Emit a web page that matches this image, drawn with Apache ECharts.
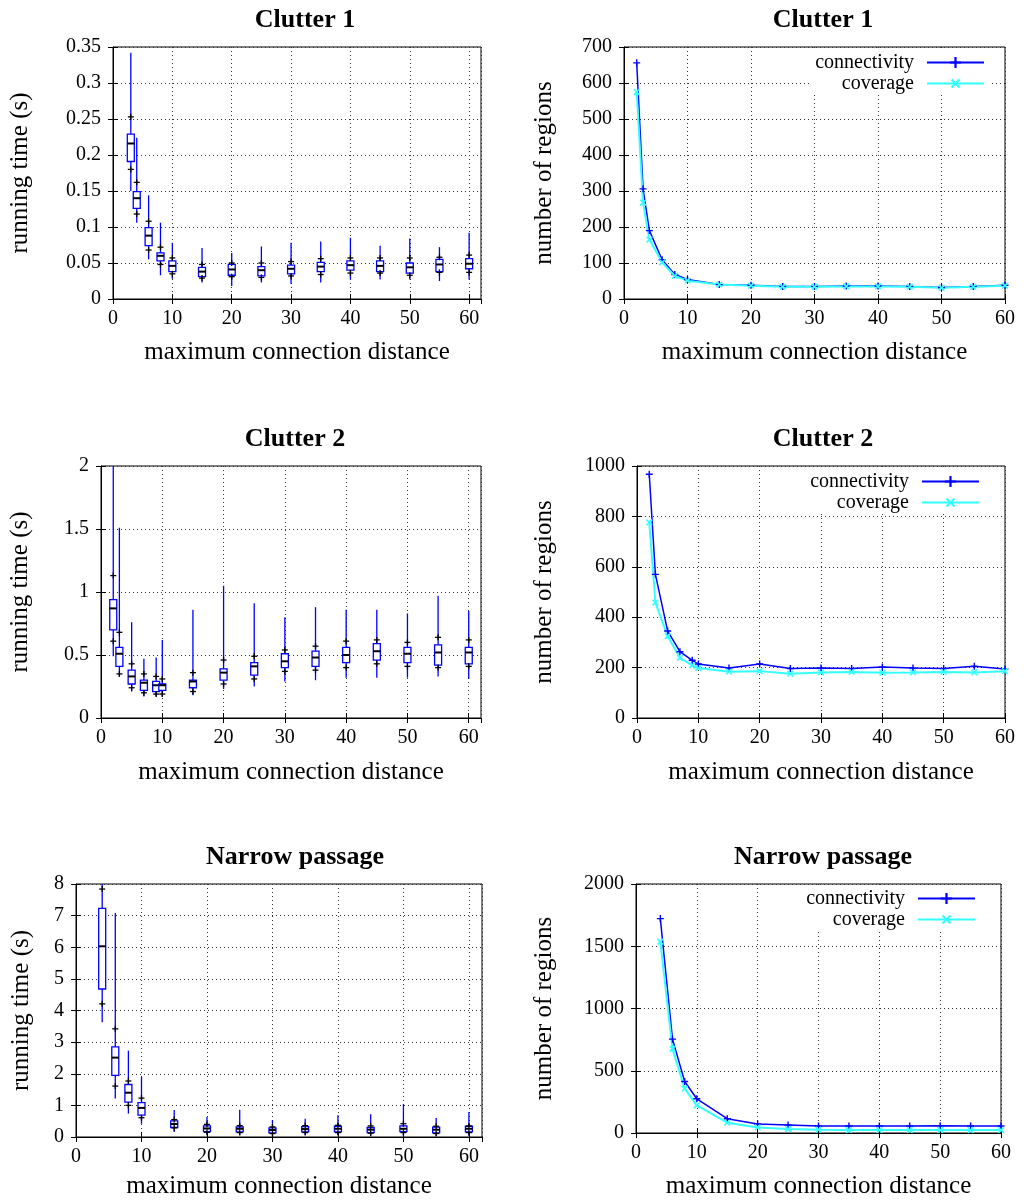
<!DOCTYPE html>
<html>
<head>
<meta charset="utf-8">
<script src="https://cdn.jsdelivr.net/npm/echarts@6/dist/echarts.min.js"></script>
<style>
html, body { margin: 0; background: #fff; }
#c { width: 1027px; height: 1201px; }
</style>
</head>
<body>
<div id="c"></div>
<script>
// running time boxes: [min, p10, q1, median, q3, p90, max]
var c1BoxX = [3, 4, 6, 8, 10, 15, 20, 25, 30, 35, 40, 45, 50, 55, 60];
var c1Box = [
  [0.150, 0.180, 0.191, 0.216, 0.229, 0.253, 0.342],
  [0.106, 0.118, 0.126, 0.140, 0.149, 0.162, 0.224],
  [0.055, 0.068, 0.074, 0.088, 0.099, 0.108, 0.144],
  [0.033, 0.048, 0.053, 0.060, 0.064, 0.072, 0.106],
  [0.028, 0.035, 0.038, 0.046, 0.053, 0.057, 0.078],
  [0.023, 0.029, 0.031, 0.038, 0.044, 0.048, 0.071],
  [0.018, 0.031, 0.033, 0.041, 0.048, 0.050, 0.064],
  [0.023, 0.030, 0.032, 0.040, 0.045, 0.050, 0.073],
  [0.021, 0.032, 0.035, 0.042, 0.047, 0.052, 0.078],
  [0.023, 0.034, 0.038, 0.045, 0.051, 0.056, 0.080],
  [0.027, 0.036, 0.040, 0.047, 0.053, 0.057, 0.085],
  [0.027, 0.036, 0.038, 0.046, 0.053, 0.057, 0.074],
  [0.027, 0.033, 0.036, 0.044, 0.050, 0.057, 0.084],
  [0.025, 0.037, 0.038, 0.048, 0.055, 0.058, 0.072],
  [0.027, 0.037, 0.042, 0.049, 0.056, 0.061, 0.092]
];
var c2BoxX = [2, 3, 5, 7, 9, 10, 15, 20, 25, 30, 35, 40, 45, 50, 55, 60];
var c2Box = [
  [0.49, 0.61, 0.70, 0.87, 0.94, 1.13, 2.00],
  [0.33, 0.35, 0.41, 0.51, 0.56, 0.68, 1.51],
  [0.21, 0.24, 0.27, 0.33, 0.38, 0.43, 0.76],
  [0.17, 0.20, 0.22, 0.28, 0.30, 0.35, 0.47],
  [0.17, 0.19, 0.21, 0.26, 0.29, 0.33, 0.48],
  [0.17, 0.19, 0.22, 0.26, 0.27, 0.31, 0.62],
  [0.18, 0.21, 0.24, 0.29, 0.30, 0.36, 0.86],
  [0.23, 0.27, 0.30, 0.36, 0.39, 0.46, 1.05],
  [0.25, 0.31, 0.34, 0.41, 0.44, 0.49, 0.91],
  [0.29, 0.37, 0.40, 0.45, 0.51, 0.54, 0.80],
  [0.30, 0.38, 0.41, 0.48, 0.53, 0.57, 0.88],
  [0.32, 0.40, 0.44, 0.50, 0.56, 0.61, 0.86],
  [0.32, 0.43, 0.46, 0.53, 0.59, 0.62, 0.86],
  [0.32, 0.41, 0.44, 0.51, 0.56, 0.60, 0.83],
  [0.33, 0.40, 0.42, 0.52, 0.58, 0.64, 0.97],
  [0.31, 0.41, 0.43, 0.52, 0.56, 0.62, 0.85]
];
var npBoxX = [4, 6, 8, 10, 15, 20, 25, 30, 35, 40, 45, 50, 55, 60];
var npBox = [
  [3.63, 4.21, 4.68, 6.03, 7.23, 7.84, 8.00],
  [1.22, 1.61, 1.95, 2.51, 2.85, 3.42, 7.08],
  [0.74, 1.00, 1.10, 1.40, 1.66, 1.77, 2.73],
  [0.42, 0.61, 0.69, 0.92, 1.09, 1.23, 1.90],
  [0.16, 0.29, 0.30, 0.41, 0.51, 0.55, 0.85],
  [0.08, 0.15, 0.17, 0.27, 0.35, 0.40, 0.63],
  [0.06, 0.14, 0.16, 0.26, 0.32, 0.36, 0.86],
  [0.04, 0.11, 0.13, 0.22, 0.29, 0.32, 0.53],
  [0.06, 0.14, 0.16, 0.25, 0.33, 0.36, 0.58],
  [0.06, 0.14, 0.16, 0.26, 0.34, 0.37, 0.69],
  [0.04, 0.12, 0.14, 0.23, 0.30, 0.35, 0.72],
  [0.04, 0.14, 0.17, 0.26, 0.35, 0.42, 1.03],
  [0.04, 0.11, 0.13, 0.23, 0.31, 0.34, 0.60],
  [0.04, 0.14, 0.16, 0.26, 0.34, 0.35, 0.79]
];

// number of regions
var c1X = [2, 3, 4, 6, 8, 10, 15, 20, 25, 30, 35, 40, 45, 50, 55, 60];
var c1Conn = [656, 306, 190, 109, 68, 54, 40, 38, 35, 35, 36, 36, 35, 32, 35, 38];
var c1Cov = [575, 268, 165, 102, 64, 51, 40, 37, 34, 34, 35, 35, 34, 31, 34, 37];
var c2X = [2, 3, 5, 7, 9, 10, 15, 20, 25, 30, 35, 40, 45, 50, 55, 60];
var c2Conn = [967, 570, 345, 263, 229, 214, 198, 214, 196, 198, 196, 202, 198, 196, 205, 194];
var c2Cov = [776, 458, 324, 239, 209, 198, 184, 186, 176, 181, 183, 180, 181, 183, 181, 186];
var npX = [4, 6, 8, 10, 15, 20, 25, 30, 35, 40, 45, 50, 55, 60];
var npConn = [1722, 754, 414, 275, 115, 72, 64, 56, 56, 56, 56, 59, 56, 56];
var npCov = [1537, 676, 356, 222, 83, 45, 32, 27, 24, 24, 24, 24, 24, 24];

var titles = ['Clutter 1', 'Clutter 1', 'Clutter 2', 'Clutter 2', 'Narrow passage', 'Narrow passage'];
var xName = 'maximum connection distance';
var leftName = 'running time (s)';
var rightName = 'number of regions';

var FONT = 'Liberation Serif';
var BLUE = '#0000ff';
var CYAN = '#33ffff';
var PLUS = 'path://M4,0H6V4H10V6H6V10H4V6H0V4H4Z';

var chart = echarts.init(document.getElementById('c'));

var grids = [
  { left: 113, top: 47, width: 368, height: 252 },
  { left: 624, top: 47, width: 381, height: 252 },
  { left: 101, top: 466, width: 380, height: 252 },
  { left: 637, top: 466, width: 368, height: 252 },
  { left: 76, top: 884, width: 406, height: 253 },
  { left: 636, top: 884, width: 365, height: 249 }
];
var xGaps = [41, 41, 42, 42, 37, 41];
var yGaps = [80, 67, 68, 80, 42, 79];
var yMax = [0.35, 700, 2, 1000, 8, 2000];
var yStep = [0.05, 100, 0.5, 200, 1, 500];
var titlePos = [[300, 2], [818, 2], [290, 421], [818, 421], [290, 839], [818, 839]];

var splitStyle = { lineStyle: { color: '#333', type: [1, 3], width: 1 } };
var tickStyle = { inside: true, length: 5, lineStyle: { color: '#000' } };

function plainNum(v) { return String(+(+v).toFixed(2)); }

var xAxes = [], yAxes = [], titleList = [];
grids.forEach(function (g, i) {
  g.show = true;
  g.borderColor = '#000';
  g.borderWidth = 1;
  var isBox = i % 2 === 0;
  xAxes.push({
    type: 'value', gridIndex: i, min: 0, max: isBox ? 62 : 60, interval: 10,
    name: xName, nameLocation: 'middle', nameGap: xGaps[i],
    nameTextStyle: { fontFamily: FONT, fontSize: 25, color: '#000' },
    axisLine: { lineStyle: { color: '#000', width: 1 } },
    axisTick: tickStyle,
    axisLabel: { fontFamily: FONT, fontSize: 20, color: '#000', margin: 10, showMaxLabel: !isBox },
    splitLine: splitStyle
  });
  yAxes.push({
    type: 'value', gridIndex: i, min: 0, max: yMax[i], interval: yStep[i],
    name: isBox ? leftName : rightName, nameLocation: 'middle', nameGap: yGaps[i],
    nameTextStyle: { fontFamily: FONT, fontSize: 25, color: '#000' },
    axisLine: { show: true, lineStyle: { color: '#000', width: 1 } },
    axisTick: { show: true, inside: true, length: 5, lineStyle: { color: '#000' } },
    axisLabel: { fontFamily: FONT, fontSize: 20, color: '#000', margin: 12, formatter: plainNum },
    splitLine: splitStyle
  });
  titleList.push({
    text: titles[i], left: titlePos[i][0], top: titlePos[i][1], textAlign: 'center',
    textStyle: { fontFamily: FONT, fontSize: 26, fontWeight: 'bold', color: '#000' }
  });
});
// mirror ticks on top and right edges
grids.forEach(function (g, i) {
  var isBox = i % 2 === 0;
  xAxes.push({
    type: 'value', gridIndex: i, position: 'top', min: 0, max: isBox ? 62 : 60, interval: 10,
    axisLine: { show: false }, axisTick: tickStyle, axisLabel: { show: false }, splitLine: { show: false }
  });
  yAxes.push({
    type: 'value', gridIndex: i, position: 'right', min: 0, max: yMax[i], interval: yStep[i],
    axisLine: { show: false }, axisTick: { show: true, inside: true, length: 5, lineStyle: { color: '#000' } },
    axisLabel: { show: false }, splitLine: { show: false }
  });
});

function boxItem(params, api) {
  var x = api.value(0);
  var pt = function (k) { return api.coord([x, api.value(k)]); };
  var lo = pt(1), p10 = pt(2), q1 = pt(3), md = pt(4), q3 = pt(5), p90 = pt(6), hi = pt(7);
  var cx = lo[0], w = 3.5;
  var blueLine = { stroke: BLUE, lineWidth: 1.3 };
  var blk = { stroke: '#000', lineWidth: 1.3 };
  function plus(p) {
    return [
      { type: 'line', shape: { x1: cx - 3, y1: p[1], x2: cx + 3, y2: p[1] }, style: blk },
      { type: 'line', shape: { x1: cx, y1: p[1] - 3, x2: cx, y2: p[1] + 3 }, style: blk }
    ];
  }
  return {
    type: 'group',
    children: [
      { type: 'line', shape: { x1: cx, y1: hi[1], x2: cx, y2: q3[1] }, style: blueLine },
      { type: 'line', shape: { x1: cx, y1: q1[1], x2: cx, y2: lo[1] }, style: blueLine },
      { type: 'rect', shape: { x: cx - w, y: q3[1], width: 2 * w, height: q1[1] - q3[1] },
        style: { fill: '#fff', stroke: BLUE, lineWidth: 1.3 } },
      { type: 'line', shape: { x1: cx - w, y1: md[1], x2: cx + w, y2: md[1] },
        style: { stroke: '#000', lineWidth: 2 } }
    ].concat(plus(p10), plus(p90))
  };
}

function boxSeries(xs, rows, idx) {
  return {
    type: 'custom', xAxisIndex: idx, yAxisIndex: idx,
    renderItem: boxItem,
    encode: { x: 0, y: [1, 2, 3, 4, 5, 6, 7] },
    data: xs.map(function (x, i) { return [x].concat(rows[i]); })
  };
}

function pairs(xs, ys) {
  return xs.map(function (x, i) { return [x, ys[i]]; });
}

function lineSeries(name, xs, ys, idx) {
  var conn = name === 'connectivity';
  return {
    type: 'line', name: name, xAxisIndex: idx, yAxisIndex: idx,
    data: pairs(xs, ys),
    symbol: PLUS, symbolSize: conn ? 7 : 8, symbolRotate: conn ? 0 : 45,
    showAllSymbol: true,
    lineStyle: { color: conn ? BLUE : CYAN, width: conn ? 1.5 : 2 },
    itemStyle: { color: conn ? BLUE : CYAN }
  };
}

function legendAt(top, right) {
  return {
    data: ['connectivity', 'coverage'], orient: 'vertical', align: 'right',
    top: top, right: right, padding: [1, 4], itemGap: 0,
    itemWidth: 57, itemHeight: 14, selectedMode: false,
    backgroundColor: '#fff',
    textStyle: { fontFamily: FONT, fontSize: 20, color: '#000', lineHeight: 21, padding: [0, 8, 0, 0] }
  };
}

chart.setOption({
  animation: false,
  title: titleList,
  grid: grids,
  xAxis: xAxes,
  yAxis: yAxes,
  legend: [legendAt(51, 38), legendAt(470, 43), legendAt(887, 47)],
  series: [
    boxSeries(c1BoxX, c1Box, 0),
    boxSeries(c2BoxX, c2Box, 2),
    boxSeries(npBoxX, npBox, 4),
    lineSeries('connectivity', c1X, c1Conn, 1),
    lineSeries('coverage', c1X, c1Cov, 1),
    lineSeries('connectivity', c2X, c2Conn, 3),
    lineSeries('coverage', c2X, c2Cov, 3),
    lineSeries('connectivity', npX, npConn, 5),
    lineSeries('coverage', npX, npCov, 5)
  ]
});
</script>
</body>
</html>
